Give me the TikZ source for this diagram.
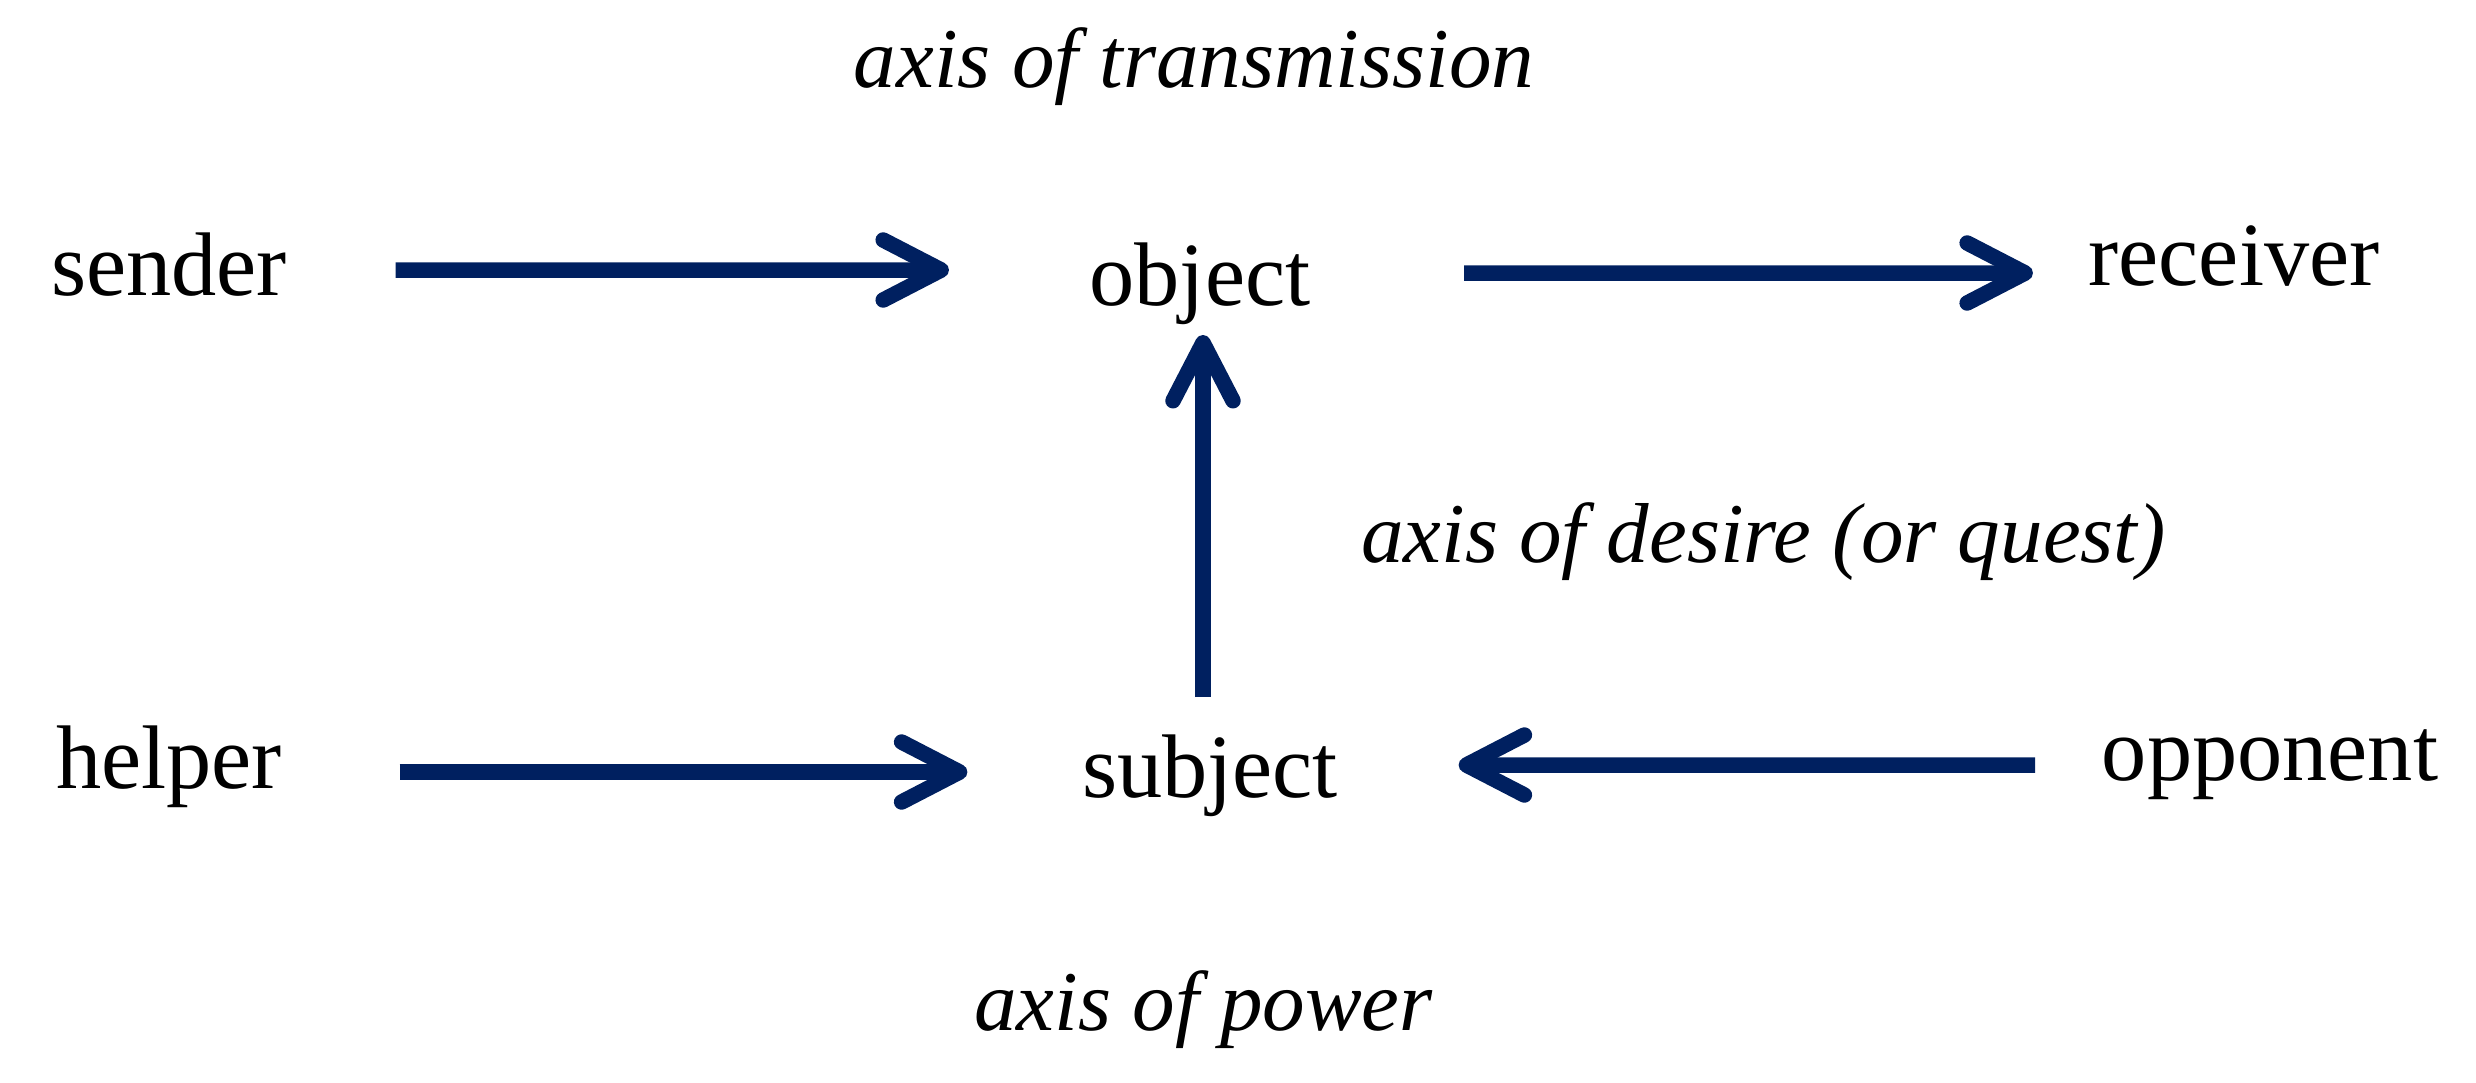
\documentclass[tikz,border=0pt]{standalone}
\usepackage{fontspec}
\setmainfont{Liberation Serif}
\usetikzlibrary{arrows.meta}
\definecolor{navy}{HTML}{002060}
\tikzset{
  lbl/.style={anchor=base, inner sep=0pt, font=\fontsize{25.7}{30}\selectfont},
  axislbl/.style={anchor=base, inner sep=0pt, font=\fontsize{24.2}{29}\selectfont\itshape},
  arr/.style={draw=navy, line width=0.155cm,
    -{Straight Barb[length=0.58cm, width=0.6cm, round]}},
}
\begin{document}
\begin{tikzpicture}
\useasboundingbox (0,0) rectangle (24.76,-10.82);
\node[axislbl] (tr) at (11.94,-0.87) {axis of transmission};
\node[lbl] (sender) at (1.69,-2.95) {sender};
\node[lbl] (object) at (12.00,-3.05) {object};
\node[lbl] (receiver) at (22.34,-2.85) {receiver};
\node[axislbl] (desire) at (17.635,-5.62) {axis of desire (or quest)};
\node[lbl] (helper) at (1.69,-7.88) {helper};
\node[lbl] (subject) at (12.10,-7.97) {subject};
\node[lbl] (opponent) at (22.70,-7.80) {opponent};
\node[axislbl] (power) at (12.035,-10.30) {axis of power};

\draw[arr] ([xshift=1.08cm,yshift=0.25cm]sender.base east) -- ([xshift=-1.40cm,yshift=0.35cm]object.base west);
\draw[arr] ([xshift=1.53cm,yshift=0.32cm]object.base east) -- ([xshift=-0.55cm,yshift=0.12cm]receiver.base west);
\draw[arr] ([xshift=-0.07cm,yshift=1.00cm]subject.base) -- ([xshift=0.03cm,yshift=-0.30cm]object.base);
\draw[arr] ([xshift=1.17cm,yshift=0.16cm]helper.base east) -- ([xshift=-1.14cm,yshift=0.25cm]subject.base west);
\draw[arr] ([xshift=-0.66cm,yshift=0.15cm]opponent.base west) -- ([xshift=1.20cm,yshift=0.32cm]subject.base east);
\end{tikzpicture}
\end{document}
